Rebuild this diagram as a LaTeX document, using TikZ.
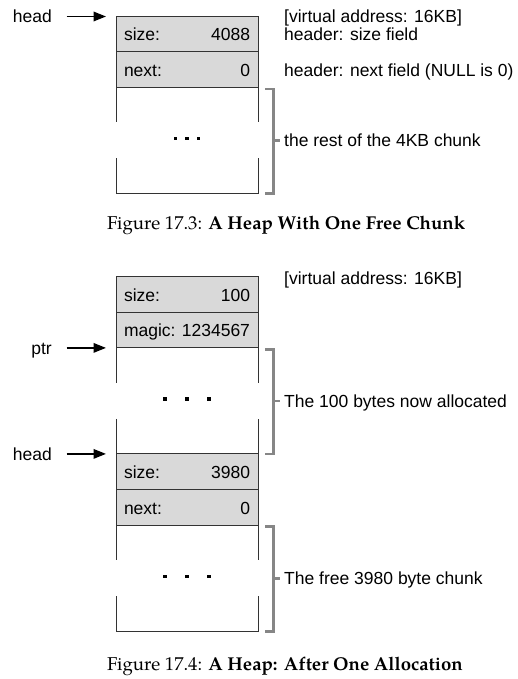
\documentclass[tikz,border=0pt]{standalone}
\usepackage{fontspec}
\setmainfont{Liberation Sans}
\newfontfamily\capfont{texgyrepagella}[Extension=.otf,UprightFont=*-regular,BoldFont=*-bold]
\usetikzlibrary{positioning,arrows.meta}

\begin{document}
\begin{tikzpicture}[x=1pt,y=-1pt,
    font=\fontsize{17.5}{17}\selectfont,
    cell/.style={rectangle,draw=black!80,fill=gray!30,line width=0.9pt,minimum width=142pt,minimum height=35.7pt,text width=126pt,inner xsep=8pt,inner ysep=0pt,outer sep=0pt,text height=13.5pt,text depth=0pt},
    chunk/.style={rectangle,minimum width=142pt,minimum height=106pt,inner sep=0pt,outer sep=0pt},
    wall/.style={draw=black!80,line width=0.9pt},
    dot/.style={rectangle,fill=black,minimum size=3.5pt,inner sep=0pt},
    brace/.style={draw=gray!95,line width=2.7pt},
    ptrlbl/.style={anchor=east,inner sep=0pt,text height=12.5pt,text depth=0pt},
    ptrarrow/.style={-{Triangle[length=12.5pt,width=9.5pt]},line width=1.8pt,shorten <=14.5pt,shorten >=10pt},
    note/.style={anchor=base west,inner sep=0pt},
    sidenote/.style={anchor=west,inner sep=0pt,text height=12.5pt,text depth=0pt},
    caption/.style={anchor=base west,inner sep=0pt,font=\capfont\fontsize{18.6}{21}\selectfont}]
\useasboundingbox (0,0) rectangle (518,679);

% one free chunk
\node[cell] (size1) at (187,33.85) {size:\hfill 4088};
\node[cell,below=0pt of size1] (next1) {next:\hfill 0};
\node[chunk,below=0pt of next1] (rest1) {};
\node[ptrlbl] (head1) at (52,16.5) {head};
\draw[ptrarrow] (head1.east) -- (head1.east -| size1.west);
\node[note] (vaddr1) at (284,23) {[virtual address: 16KB]};
\node[note] (sizenote1) at ([xshift=26pt]size1.base east) {header: size field};
\node[note] (nextnote1) at ([xshift=26pt]next1.base east) {header: next field (NULL is 0)};
\node[sidenote] (restnote1) at ([xshift=26pt]rest1.east) {the rest of the 4KB chunk};
\node[caption] (cap1) at (107,229) {Figure 17.3: \textbf{A Heap With One Free Chunk}};

% after one allocation
\node[cell] (size2) at (187,294.35) {size:\hfill 100};
\node[cell,below=0pt of size2] (magic2) {magic:\hfill 1234567};
\node[chunk,below=0pt of magic2] (rest2) {};
\node[cell,below=0pt of rest2] (size3) {size:\hfill 3980};
\node[cell,below=0pt of size3] (next3) {next:\hfill 0};
\node[chunk,below=0pt of next3] (rest3) {};
\node[ptrlbl] (ptr2) at (52,347.9) {ptr};
\draw[ptrarrow] (ptr2.east) -- (ptr2.east -| rest2.west);
\node[ptrlbl] (head2) at (52,453.9) {head};
\draw[ptrarrow] (head2.east) -- (head2.east -| size3.west);
\node[note] (vaddr2) at (284,284) {[virtual address: 16KB]};
\node[sidenote] (restnote2) at ([xshift=26pt]rest2.east) {The 100 bytes now allocated};
\node[sidenote] (restnote3) at ([xshift=26pt]rest3.east) {The free 3980 byte chunk};
\node[caption] (cap2) at (107,670) {Figure 17.4: \textbf{A Heap: After One Allocation}};

% open sides, dots and brackets
\foreach \c/\gap in {rest1/11.5,rest2/22,rest3/22}{
    \draw[wall] (\c.north west) -- ++(0,35);
    \draw[wall] (\c.north east) -- ++(0,35);
    \draw[wall] ([yshift=35pt]\c.south west) -- (\c.south west) -- (\c.south east) -- ++(0,-35);
    \foreach \i in {-1,0,1}
        \node[dot] at ([xshift=\i*\gap pt,yshift=2pt]\c.center) {};
    \draw[brace] ([xshift=7pt,yshift=-1.5pt]\c.north east) -| ([xshift=15.5pt]\c.south east) -- ([xshift=7pt]\c.south east);
    \draw[brace] ([xshift=15.5pt]\c.east) -- ++(6,0);
}
\end{tikzpicture}
\end{document}
